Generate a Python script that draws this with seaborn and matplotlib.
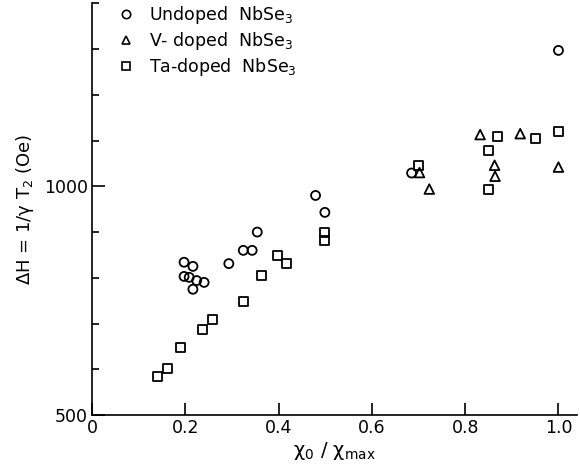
import numpy as np
import pandas as pd
import seaborn as sns
import matplotlib
matplotlib.use("Agg")
import matplotlib.pyplot as plt
from matplotlib.lines import Line2D
from matplotlib.ticker import MultipleLocator, FixedLocator

# ---- data ----
undoped_x = [0.197, 0.216, 0.197, 0.208, 0.224, 0.240, 0.216, 0.293,
             0.324, 0.343, 0.354, 0.479, 0.499, 0.685, 1.000]
undoped_y = [834, 825, 803, 801, 794, 790, 775, 831,
             860, 860, 900, 980, 943, 1029, 1297]

vdoped_x = [0.702, 0.723, 0.832, 0.863, 0.864, 0.918, 1.000]
vdoped_y = [1030, 994, 1113, 1046, 1022, 1115, 1042]

tadoped_x = [0.141, 0.162, 0.190, 0.236, 0.258, 0.324, 0.363, 0.397, 0.416,
             0.499, 0.499, 0.700, 0.870, 0.850, 0.850, 0.950, 1.000]
tadoped_y = [584, 602, 648, 686, 708, 749, 804, 849, 831,
             898, 881, 1046, 1108, 1079, 993, 1104, 1119]

series_names = ["Undoped  NbSe$_3$", "V- doped  NbSe$_3$", "Ta-doped  NbSe$_3$"]
x_ticks = [0, 0.2, 0.4, 0.6, 0.8, 1.0]
x_ticklabels = ["0", "0.2", "0.4", "0.6", "0.8", "1.0"]
y_labeled = [500, 1000]

sns.set_style("ticks")
plt.rcParams['font.family'] = ['DejaVu Sans']
plt.rcParams['mathtext.default'] = 'regular'
plt.rcParams['text.color'] = 'black'
plt.rcParams['axes.labelcolor'] = 'black'
plt.rcParams['xtick.color'] = 'black'
plt.rcParams['ytick.color'] = 'black'

fig = plt.figure(figsize=(5.8, 4.69), dpi=100)
ax = fig.add_axes([0.159, 0.115, 0.836, 0.878])

common = dict(facecolors='none', edgecolor='black', linewidth=1.3, ax=ax, legend=False)
sns.scatterplot(x=undoped_x, y=undoped_y, marker='o', s=42, **common)
sns.scatterplot(x=vdoped_x, y=vdoped_y, marker='^', s=48, **common)
sns.scatterplot(x=tadoped_x, y=tadoped_y, marker='s', s=42, **common)

ax.set_xlim(0, 1.04)
ax.set_ylim(500, 1400)
sns.despine(ax=ax, top=True, right=True)
for sp in ax.spines.values():
    sp.set_linewidth(1.2)
    sp.set_color('black')

ax.set_xticks(x_ticks)
ax.set_xticklabels(x_ticklabels, fontsize=12.5)
ax.yaxis.set_major_locator(FixedLocator(y_labeled))
ax.set_yticklabels([str(v) for v in y_labeled], fontsize=12.5)
ax.yaxis.set_minor_locator(MultipleLocator(100))
ax.tick_params(axis='both', which='major', direction='in', length=9, width=1.2, colors='black', pad=3)
ax.tick_params(axis='y', which='minor', direction='in', length=5, width=1.2, colors='black')

ax.set_xlabel(r"$\chi_0\ /\ \chi_{max}$", fontsize=14, labelpad=2, color='black')
ax.set_ylabel(r"$\Delta$H = 1/$\gamma$ T$_2$ (Oe)", fontsize=13, labelpad=6, color='black')

handles = [
    Line2D([], [], marker='o', ls='none', mfc='none', mec='black', mew=1.2, ms=6),
    Line2D([], [], marker='^', ls='none', mfc='none', mec='black', mew=1.2, ms=6),
    Line2D([], [], marker='s', ls='none', mfc='none', mec='black', mew=1.2, ms=6),
]
leg = ax.legend(handles, series_names, loc='upper left', bbox_to_anchor=(0.019, 1.035),
                frameon=False, fontsize=12.5, handletextpad=0.85, labelspacing=0.22,
                handlelength=1.0)
for t in leg.get_texts():
    t.set_color('black')

fig.savefig("out.png", dpi=100)
